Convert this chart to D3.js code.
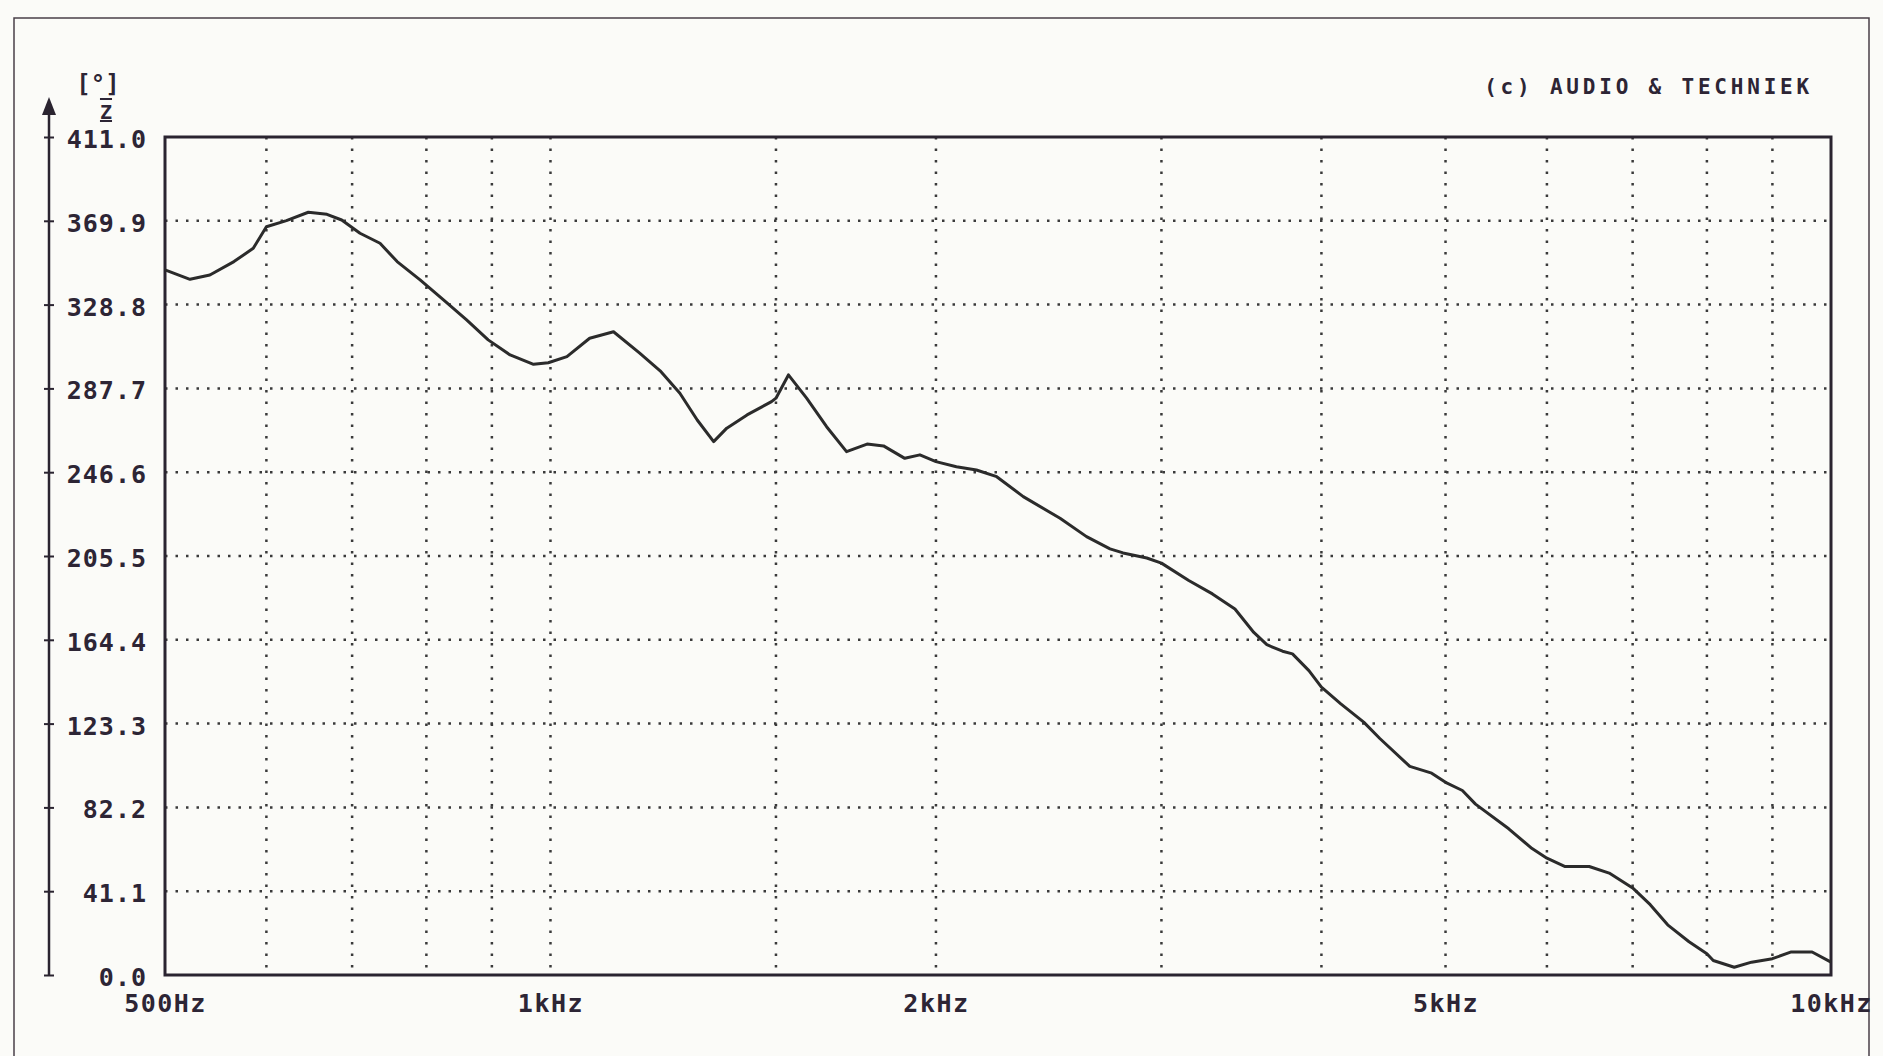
<!DOCTYPE html>
<html>
<head>
<meta charset="utf-8">
<script src="https://cdn.jsdelivr.net/npm/d3@7"></script>
<style>
    body { margin: 0; background: #fbfbf8; }
    svg { display: block; }
    .lbl { font-family: "DejaVu Sans Mono", monospace; font-weight: bold; fill: #2d2535; }
</style>
</head>
<body>
<div id="chart"></div>
<script>
// phase response
const freqHz = [500, 523, 542, 566, 586, 600, 622, 647, 669, 687, 710, 736, 759, 791, 825, 860, 894, 930, 970, 996,
    1030, 1073, 1120, 1174, 1218, 1262, 1302, 1341, 1373, 1424, 1488, 1500, 1534, 1585, 1643, 1703, 1767, 1820, 1891, 1943,
    2000, 2075, 2151, 2231, 2340, 2500, 2622, 2735, 2800, 2922, 3000, 3151, 3288, 3424, 3542, 3626, 3730, 3797, 3911,
    4000, 4142, 4316, 4443, 4689, 4877, 5000, 5154, 5277, 5602, 5842, 6000, 6200, 6474, 6711, 7000, 7225, 7455, 7747,
    8000, 8092, 8403, 8669, 9000, 9311, 9666, 10000];
const phaseDeg = [345.8, 341.2, 343.3, 349.9, 356.4, 367, 370, 374.1, 373.1, 370.3, 363.8, 358.9, 349.9, 340.9, 331.1, 321.3, 311.5, 304.1, 299.5, 300.3,
    303.3, 312.3, 315.5, 305, 296.3, 285.3, 272.2, 261.6, 268.2, 274.7, 281.2, 282.9, 294.3, 282.9, 268.9, 256.7, 260.4, 259.5, 253.4, 255.1,
    251.8, 249.3, 247.7, 244.4, 234.6, 224, 215, 209, 207, 204.5, 202, 193.5, 186.9, 179.5, 168, 162, 158.8, 157.5, 149.3,
    141.2, 133, 124, 116, 102.3, 99, 94.5, 90.5, 83.8, 71.7, 62, 57.3, 53.2, 53.2, 50, 42.7, 34.5, 24.6, 16.3,
    10.4, 7.1, 3.8, 6.3, 8, 11.3, 11.3, 6.3];

const yTicks = [0, 41.1, 82.2, 123.3, 164.4, 205.5, 246.6, 287.7, 328.8, 369.9, 411.0];
const gridFreqs = [600, 700, 800, 900, 1000, 1500, 2000, 3000, 4000, 5000, 6000, 7000, 8000, 9000];
const xTickFreqs = [500, 1000, 2000, 5000, 10000];
const xTickLabels = ['500Hz', '1kHz', '2kHz', '5kHz', '10kHz'];
const unitLabel = '[°]';
const creditText = '(c) AUDIO & TECHNIEK';

class PhasePlot {

    constructor(_config) {
        this.config = {
            parentElement: _config.parentElement,
            containerWidth: _config.containerWidth || 1883,
            containerHeight: _config.containerHeight || 1056,
            margin: _config.margin || {top: 137, right: 52, bottom: 81, left: 165}
        };
        this.initVis();
    }

    initVis() {
        let vis = this;

        vis.width = vis.config.containerWidth - vis.config.margin.left - vis.config.margin.right;
        vis.height = vis.config.containerHeight - vis.config.margin.top - vis.config.margin.bottom;

        vis.svg = d3.select(vis.config.parentElement)
            .append('svg')
            .attr('width', vis.config.containerWidth)
            .attr('height', vis.config.containerHeight);

        // scanned page frame
        vis.svg.append('path')
            .attr('d', 'M14,1060 V18 H1869 V1060')
            .attr('fill', 'none')
            .attr('stroke', '#4a4048')
            .attr('stroke-width', 1.5);

        vis.chart = vis.svg.append('g')
            .attr('transform', `translate(${vis.config.margin.left},${vis.config.margin.top})`);

        vis.x = d3.scaleLog()
            .domain([500, 10000])
            .range([0, vis.width]);

        vis.y = d3.scaleLinear()
            .domain([0, 411])
            .range([vis.height, 0]);

        // dotted grid
        vis.chart.append('g')
            .selectAll('line')
            .data(gridFreqs)
            .join('line')
            .attr('x1', d => vis.x(d))
            .attr('x2', d => vis.x(d))
            .attr('y1', 0)
            .attr('y2', vis.height)
            .attr('stroke', '#3a3a3a')
            .attr('stroke-width', 2.5)
            .attr('stroke-dasharray', '2.5,9');

        vis.chart.append('g')
            .selectAll('line')
            .data(yTicks.slice(1, -1))
            .join('line')
            .attr('x1', 0)
            .attr('x2', vis.width)
            .attr('y1', d => vis.y(d))
            .attr('y2', d => vis.y(d))
            .attr('stroke', '#3a3a3a')
            .attr('stroke-width', 2.5)
            .attr('stroke-dasharray', '2.5,8');

        // plot frame
        vis.chart.append('rect')
            .attr('width', vis.width)
            .attr('height', vis.height)
            .attr('fill', 'none')
            .attr('stroke', '#2a2430')
            .attr('stroke-width', 3);

        // the curve
        const line = d3.line()
            .x(d => vis.x(d[0]))
            .y(d => vis.y(d[1]));

        vis.chart.append('path')
            .datum(d3.zip(freqHz, phaseDeg))
            .attr('d', line)
            .attr('fill', 'none')
            .attr('stroke', '#2b2b2b')
            .attr('stroke-width', 3)
            .attr('stroke-linejoin', 'round');

        // y tick labels
        const yLabels = vis.chart.append('g')
            .attr('transform', 'translate(-13,0)')
            .call(d3.axisLeft(vis.y).tickValues(yTicks).tickFormat(d3.format('.1f')).tickSize(0).tickPadding(5));
        yLabels.select('.domain').remove();
        yLabels.selectAll('text')
            .attr('class', 'lbl')
            .attr('font-size', 25)
            .attr('dy', '0.42em')
            .style('letter-spacing', '1px');

        // separate arrow axis on the left
        const axisX = 49 - vis.config.margin.left;
        const arrowAxis = vis.chart.append('g')
            .attr('transform', `translate(${axisX + 5},0)`)
            .call(d3.axisLeft(vis.y).tickValues(yTicks).tickFormat('').tickSizeInner(10).tickSizeOuter(0));
        arrowAxis.select('.domain').remove();
        arrowAxis.selectAll('line').attr('stroke', '#2a2430').attr('stroke-width', 2);

        vis.chart.append('line')
            .attr('x1', axisX).attr('x2', axisX)
            .attr('y1', vis.y(411) - 30).attr('y2', vis.y(0))
            .attr('stroke', '#2a2430')
            .attr('stroke-width', 2.5);
        vis.chart.append('path')
            .attr('d', `M${axisX},${vis.y(411) - 40} L${axisX - 7},${vis.y(411) - 22} L${axisX + 7},${vis.y(411) - 22} Z`)
            .attr('fill', '#2a2430');

        // x tick labels
        const xLabels = vis.chart.append('g')
            .attr('transform', `translate(0,${vis.height})`)
            .call(d3.axisBottom(vis.x).tickValues(xTickFreqs)
                .tickFormat((d, i) => xTickLabels[i]).tickSize(0).tickPadding(19));
        xLabels.select('.domain').remove();
        xLabels.selectAll('text')
            .attr('class', 'lbl')
            .attr('font-size', 25)
            .style('letter-spacing', '1.5px');

        // unit label
        vis.svg.append('text')
            .attr('class', 'lbl')
            .attr('x', 98).attr('y', 92)
            .attr('text-anchor', 'middle')
            .attr('font-size', 24)
            .text(unitLabel);
        vis.svg.append('text')
            .attr('class', 'lbl')
            .attr('x', 106).attr('y', 119)
            .attr('text-anchor', 'middle')
            .attr('font-size', 20)
            .style('text-decoration', 'overline underline')
            .text('Z');

        // credit
        vis.svg.append('text')
            .attr('class', 'lbl')
            .attr('x', 1813).attr('y', 94)
            .attr('text-anchor', 'end')
            .attr('font-size', 21)
            .style('letter-spacing', '3.8px')
            .text(creditText);
    }
}

new PhasePlot({ parentElement: '#chart' });
</script>
</body>
</html>
